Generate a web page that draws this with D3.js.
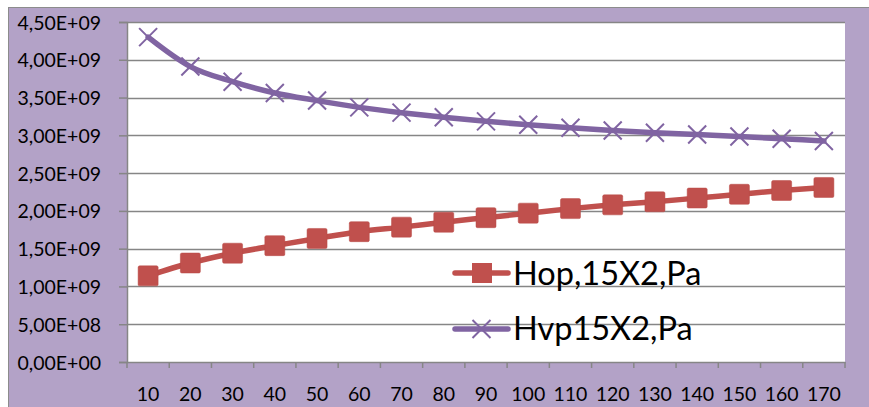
<!DOCTYPE html>
<html><head><meta charset="utf-8">
<script src="https://cdn.jsdelivr.net/npm/d3@7"></script>
<style>body{margin:0;background:#fff}svg{display:block}text{font-family:Lato,"Open Sans",sans-serif}</style>
</head><body><svg id="c" width="869" height="407"></svg>
<script>
const categories = [10,20,30,40,50,60,70,80,90,100,110,120,130,140,150,160,170];
const hopValues = [1.14,1.31,1.44,1.54,1.635,1.725,1.785,1.85,1.91,1.97,2.03,2.08,2.12,2.17,2.22,2.27,2.31].map(v=>v*1e9);
const hvpValues = [4.30,3.91,3.71,3.56,3.46,3.37,3.30,3.24,3.185,3.14,3.10,3.065,3.035,3.01,2.985,2.955,2.925].map(v=>v*1e9);
const yTicks = [0,0.5e9,1e9,1.5e9,2e9,2.5e9,3e9,3.5e9,4e9,4.5e9];
const yTickLabels = ["0,00E+00","5,00E+08","1,00E+09","1,50E+09","2,00E+09","2,50E+09","3,00E+09","3,50E+09","4,00E+09","4,50E+09"];
const seriesNames = ["Hop,15X2,Pa","Hvp15X2,Pa"];

const svg = d3.select("#c");
const L=127,R=845,T=22,B=362;
svg.append("rect").attr("x",8.5).attr("y",7.5).attr("width",869).attr("height",407).attr("fill","#B3A2C7").attr("stroke","#8c8c8c").attr("stroke-width",1);
svg.append("rect").attr("x",L).attr("y",T).attr("width",R-L).attr("height",B-T).attr("fill","#fff");

const x = d3.scaleBand().domain(categories).range([L,R]);
const y = d3.scaleLinear().domain([0,4.5e9]).range([B,T]);

svg.append("g").selectAll("line").data(yTicks.slice(1)).join("line")
 .attr("x1",L).attr("x2",R).attr("y1",d=>Math.round(y(d))+0.5).attr("y2",d=>Math.round(y(d))+0.5)
 .attr("stroke","#868686").attr("stroke-width",1.5);

const yAx = svg.append("g").attr("transform",`translate(${L},0)`)
 .call(d3.axisLeft(y).tickValues(yTicks).tickSize(8).tickPadding(18).tickFormat((d,i)=>yTickLabels[i]));
yAx.select(".domain").attr("stroke","#868686").attr("stroke-width",1.5);
yAx.selectAll(".tick line").attr("stroke","#868686").attr("stroke-width",1.5);
yAx.selectAll(".tick text").attr("font-size",19.5).attr("fill","#000").attr("dy","0.36em");

const xAx = svg.append("g").attr("transform",`translate(0,${B})`)
 .call(d3.axisBottom(x).tickSize(0).tickPadding(25));
xAx.select(".domain").attr("stroke","#868686").attr("stroke-width",1.5);
xAx.selectAll(".tick text").attr("font-size",19.5).attr("fill","#000");
svg.append("g").selectAll("line").data(d3.range(categories.length+1)).join("line")
 .attr("x1",i=>L+i*x.step()).attr("x2",i=>L+i*x.step()).attr("y1",B).attr("y2",B+6)
 .attr("stroke","#868686").attr("stroke-width",1.5);

const cx = d=>x(d)+x.bandwidth()/2;
const line = d3.line().curve(d3.curveMonotoneX);

const hvpPts = categories.map((c,i)=>[cx(c),y(hvpValues[i])]);
svg.append("path").attr("d",line(hvpPts)).attr("fill","none").attr("stroke","#8064A2").attr("stroke-width",5.5).attr("stroke-linecap","round");
const cross = (g,px,py,s)=>{g.append("path").attr("d",`M${px-s},${py-s}L${px+s},${py+s}M${px-s},${py+s}L${px+s},${py-s}`).attr("stroke","#8064A2").attr("stroke-width",2).attr("fill","none");};
const gh = svg.append("g");
hvpPts.forEach(p=>cross(gh,p[0],p[1],9));

const hopPts = categories.map((c,i)=>[cx(c),y(hopValues[i])]);
svg.append("path").attr("d",line(hopPts)).attr("fill","none").attr("stroke","#C0504D").attr("stroke-width",5.5).attr("stroke-linecap","round");
svg.append("g").selectAll("rect").data(hopPts).join("rect")
 .attr("x",d=>d[0]-10).attr("y",d=>d[1]-10).attr("width",20).attr("height",20).attr("rx",1.5)
 .attr("fill","#C0504D").attr("stroke","#b84a47").attr("stroke-width",0.5);

const lg = svg.append("g");
lg.append("line").attr("x1",455).attr("x2",508).attr("y1",273).attr("y2",273).attr("stroke","#C0504D").attr("stroke-width",5.5).attr("stroke-linecap","round");
lg.append("rect").attr("x",472).attr("y",263).attr("width",20).attr("height",20).attr("fill","#C0504D");
lg.append("text").attr("x",513).attr("y",285).attr("font-size",32.5).attr("fill","#000").text(seriesNames[0]);
lg.append("line").attr("x1",455).attr("x2",508).attr("y1",329).attr("y2",329).attr("stroke","#8064A2").attr("stroke-width",5.5).attr("stroke-linecap","round");
cross(lg,481.5,329,9);
lg.append("text").attr("x",513).attr("y",340).attr("font-size",32.5).attr("fill","#000").text(seriesNames[1]);
</script></body></html>
